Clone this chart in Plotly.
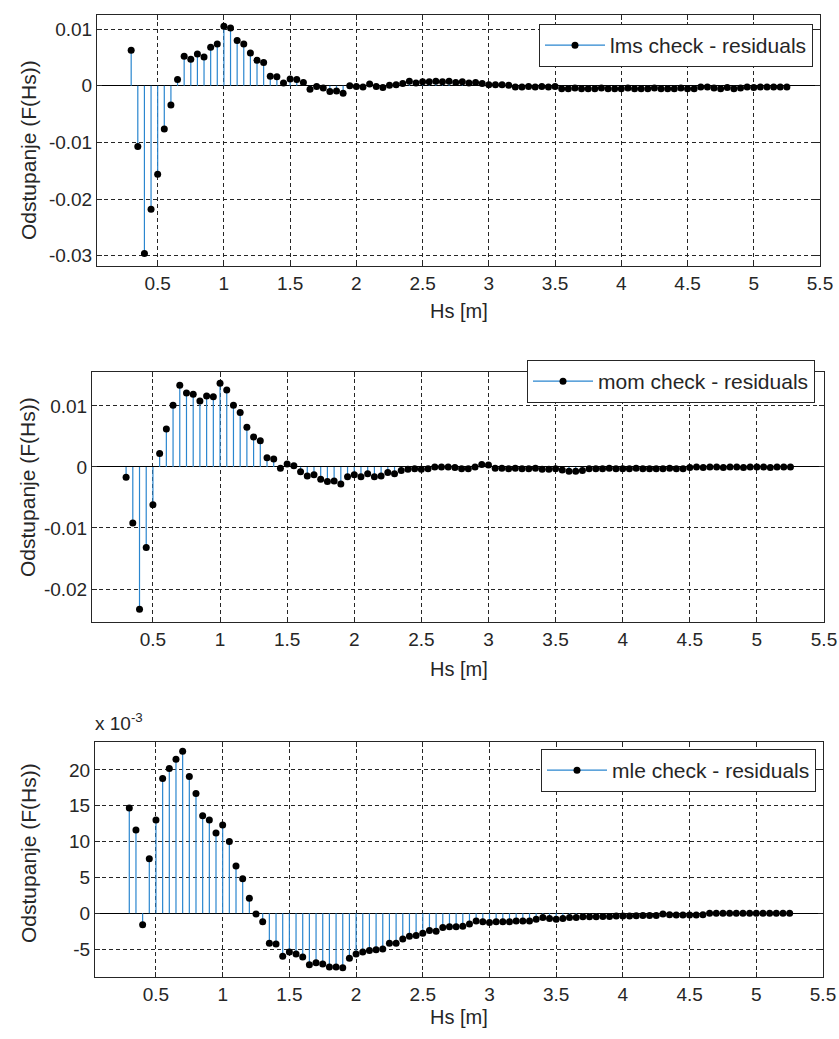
import numpy as np
import plotly.graph_objects as go

# ---------------- data ----------------
hs = np.round(np.arange(0.30, 5.251, 0.05), 2)  # Hs grid [m], 100 points

lms_resid = [
    0.0063, -0.0107, -0.0296, -0.0218, -0.0156, -0.0076, -0.0034, 0.0011, 0.0052, 0.0047,
    0.0056, 0.0051, 0.0068, 0.0074, 0.0105, 0.0102, 0.0080, 0.0074, 0.0058, 0.0045,
    0.0041, 0.0017, 0.0016, 0.0005, 0.0012, 0.0011, 0.0006, -0.0006, -0.0001, -0.0004,
    -0.0010, -0.0009, -0.0013, 0.0000, -0.0001, -0.0002, 0.0003, -0.0001, -0.0003, 0.0001,
    0.0002, 0.0004, 0.0008, 0.0005, 0.0007, 0.0007, 0.0008, 0.0007, 0.0008, 0.0006,
    0.0007, 0.0005, 0.0006, 0.0004, 0.0002, 0.0002, 0.0002, 0.0001, -0.0002, -0.0002,
    -0.0001, -0.0002, -0.0001, -0.0002, -0.0001, -0.0005, -0.0005, -0.0004, -0.0005, -0.0005,
    -0.0005, -0.0004, -0.0005, -0.0005, -0.0005, -0.0004, -0.0005, -0.0005, -0.0005, -0.0004,
    -0.0005, -0.0005, -0.0005, -0.0004, -0.0005, -0.0005, -0.0002, -0.0002, -0.0004, -0.0005,
    -0.0003, -0.0005, -0.0004, -0.0002, -0.0003, -0.0002, -0.0002, -0.0002, -0.0002, -0.0002,
]

mom_resid = [
    -0.0017, -0.0092, -0.0233, -0.0132, -0.0062, 0.0022, 0.0062, 0.0101, 0.0134, 0.0121,
    0.0119, 0.0108, 0.0116, 0.0115, 0.0137, 0.0126, 0.0101, 0.0089, 0.0065, 0.0049,
    0.0043, 0.0015, 0.0013, -0.0002, 0.0005, 0.0002, -0.0008, -0.0015, -0.0013, -0.0020,
    -0.0024, -0.0023, -0.0028, -0.0016, -0.0013, -0.0016, -0.0011, -0.0016, -0.0015, -0.0009,
    -0.0011, -0.0006, -0.0004, -0.0003, -0.0004, -0.0003, 0.0000, 0.0000, 0.0000, -0.0001,
    -0.0003, -0.0003, 0.0000, 0.0004, 0.0003, -0.0002, -0.0002, -0.0003, -0.0002, -0.0003,
    -0.0003, -0.0002, -0.0004, -0.0004, -0.0003, -0.0005, -0.0007, -0.0007, -0.0006, -0.0003,
    -0.0003, -0.0003, -0.0002, -0.0003, -0.0003, -0.0003, -0.0002, -0.0003, -0.0003, -0.0003,
    -0.0003, -0.0002, -0.0003, -0.0003, -0.0001, 0.0000, -0.0001, 0.0000, 0.0000, -0.0001,
    0.0000, 0.0000, -0.0001, 0.0000, 0.0000, 0.0000, -0.0001, 0.0000, 0.0000, 0.0000,
]

# mle residuals in units of 1e-3
mle_resid = [
    14.7, 11.6, -1.6, 7.6, 13.0, 18.8, 20.2, 21.5, 22.6, 19.1,
    16.7, 13.6, 13.0, 11.2, 12.3, 10.0, 6.6, 4.8, 2.1, -0.1,
    -1.2, -4.2, -4.3, -6.0, -5.4, -5.7, -6.1, -7.2, -6.9, -7.1,
    -7.5, -7.5, -7.6, -6.3, -5.7, -5.4, -5.2, -5.1, -5.0, -4.2,
    -4.2, -3.6, -3.2, -3.1, -2.8, -2.4, -2.5, -2.0, -1.9, -1.9,
    -1.8, -1.5, -1.1, -1.2, -1.3, -1.2, -1.2, -1.2, -1.1, -1.1,
    -1.1, -0.85, -0.6, -0.75, -0.85, -0.75, -0.6, -0.6, -0.5, -0.5,
    -0.5, -0.45, -0.45, -0.4, -0.4, -0.4, -0.35, -0.3, -0.3, -0.3,
    -0.1, -0.2, -0.25, -0.25, -0.25, -0.25, -0.2, 0.0, 0.0, 0.0,
    0.0, 0.0, 0.0, 0.0, 0.0, 0.0, 0.0, 0.0, 0.0, 0.0,
]

legend_names = ["lms check - residuals", "mom check - residuals", "mle check - residuals"]

x_ticks = [0.5, 1, 1.5, 2, 2.5, 3, 3.5, 4, 4.5, 5, 5.5]
x_ticktext = ["0.5", "1", "1.5", "2", "2.5", "3", "3.5", "4", "4.5", "5", "5.5"]
y_ticks_1 = [0.01, 0, -0.01, -0.02, -0.03]
y_ticktext_1 = ["0.01", "0", "-0.01", "-0.02", "-0.03"]
y_ticks_2 = [0.01, 0, -0.01, -0.02]
y_ticktext_2 = ["0.01", "0", "-0.01", "-0.02"]
y_ticks_3 = [20, 15, 10, 5, 0, -5]
y_ticktext_3 = ["20", "15", "10", "5", "0", "-5"]

# ---------------- layout geometry ----------------
W, H = 839, 1039
BLUE = "#2a86cf"
DARK = "#262626"
FONT = "Liberation Sans, Arial, sans-serif"

def px_x(p):
    return p / W

def px_y(p):
    return 1 - p / H

panels = [
    dict(vals=lms_resid, xdom=(97, 820), ydom=(15, 266), xr=(0.042, 5.5), yr=(-0.0318, 0.0125),
         yt=y_ticks_1, ytt=y_ticktext_1, leg=(813, 24), ytitle=150, xtitle=311),
    dict(vals=mom_resid, xdom=(92, 824), ydom=(372, 622), xr=(0.046, 5.5), yr=(-0.0254, 0.01555),
         yt=y_ticks_2, ytt=y_ticktext_2, leg=(815, 360), ytitle=487, xtitle=669),
    dict(vals=mle_resid, xdom=(95, 823), ydom=(742, 977), xr=(0.043, 5.5), yr=(-8.9, 23.9),
         yt=y_ticks_3, ytt=y_ticktext_3, leg=(816, 749), ytitle=853, xtitle=1017),
]

fig = go.Figure()
layout = dict(
    width=W, height=H, margin=dict(l=0, r=0, t=0, b=0, autoexpand=False),
    paper_bgcolor="white", plot_bgcolor="white",
    font=dict(family=FONT, color=DARK, size=19),
)
annotations = []

for i, p in enumerate(panels):
    sfx = "" if i == 0 else str(i + 1)
    xa, ya = "x" + sfx, "y" + sfx
    leg = "legend" + sfx
    sx, sy = [], []
    for xv, yv in zip(hs, p["vals"]):
        sx += [xv, xv, None]
        sy += [0, yv, None]
    fig.add_trace(go.Scatter(x=sx, y=sy, mode="lines", line=dict(color=BLUE, width=1.2),
                             xaxis=xa, yaxis=ya, showlegend=False, hoverinfo="skip"))
    fig.add_trace(go.Scatter(x=hs, y=p["vals"], mode="markers",
                             marker=dict(color="black", size=7),
                             xaxis=xa, yaxis=ya, showlegend=False))
    fig.add_trace(go.Scatter(x=[None], y=[None], mode="lines+markers", name=legend_names[i],
                             line=dict(color=BLUE, width=1.2), marker=dict(color="black", size=7),
                             xaxis=xa, yaxis=ya, legend=leg, showlegend=True))

    common = dict(showline=True, linecolor=DARK, linewidth=1, mirror="allticks",
                  ticks="inside", ticklen=5, tickcolor=DARK, showgrid=True,
                  gridcolor=DARK, griddash="4px,3px", gridwidth=1, automargin=False,
                  tickfont=dict(family=FONT, size=19, color=DARK))
    layout["xaxis" + sfx] = dict(common, domain=[px_x(p["xdom"][0]), px_x(p["xdom"][1])],
                                 range=list(p["xr"]), anchor=ya, tickvals=x_ticks,
                                 ticktext=x_ticktext, zeroline=False)
    layout["yaxis" + sfx] = dict(common, domain=[px_y(p["ydom"][1]), px_y(p["ydom"][0])],
                                 range=list(p["yr"]), anchor=xa, tickvals=p["yt"],
                                 ticktext=p["ytt"], zeroline=True, zerolinecolor="black",
                                 zerolinewidth=1)
    layout[leg] = dict(x=px_x(p["leg"][0]), xanchor="right", y=px_y(p["leg"][1]), yanchor="top",
                       bgcolor="white", bordercolor=DARK, borderwidth=1,
                       font=dict(family=FONT, size=21, color=DARK), itemwidth=60)
    annotations.append(dict(text="Odstupanje (F(Hs))", xref="paper", yref="paper",
                            x=px_x(28), y=px_y(p["ytitle"]), xanchor="center", yanchor="middle",
                            textangle=-90, showarrow=False,
                            font=dict(family=FONT, size=21, color=DARK)))
    annotations.append(dict(text="Hs [m]", xref="paper", yref="paper",
                            x=px_x(459), y=px_y(p["xtitle"]), xanchor="center", yanchor="middle",
                            showarrow=False, font=dict(family=FONT, size=20, color=DARK)))

annotations.append(dict(text="x 10<sup>-3</sup>", xref="paper", yref="paper",
                        x=px_x(93), y=px_y(722), xanchor="left", yanchor="middle",
                        showarrow=False, font=dict(family=FONT, size=19, color=DARK)))
layout["annotations"] = annotations
fig.update_layout(**layout)

fig.write_html(
    "out.html",
    config={"displayModeBar": False},
    post_script="document.body.style.margin='0';document.body.style.overflow='hidden';",
)
